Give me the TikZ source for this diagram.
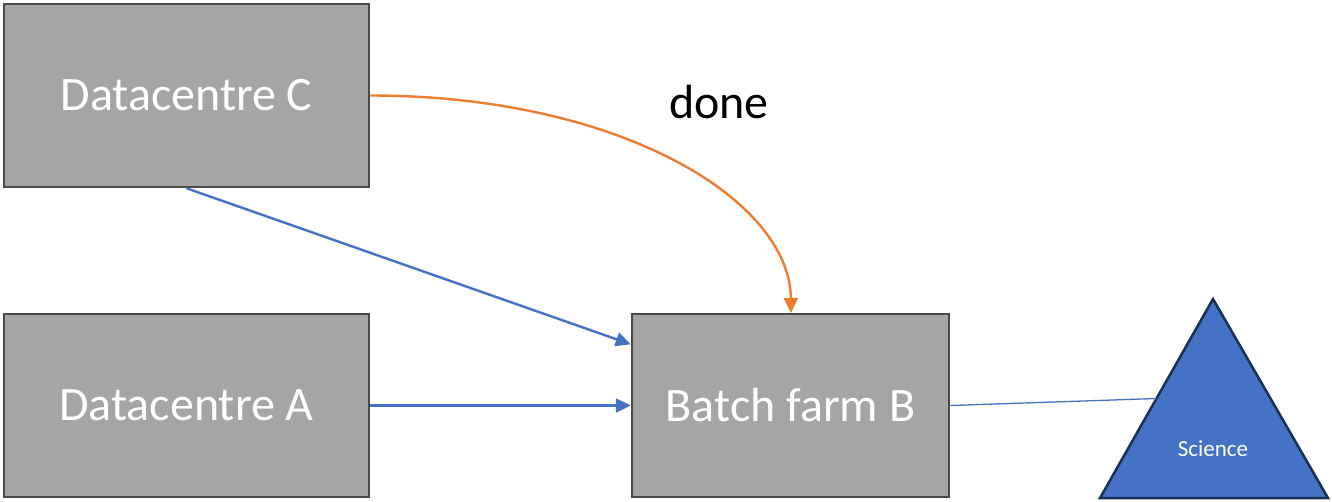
\documentclass[tikz,border=0pt]{standalone}
\usepackage{fontspec}
\setmainfont{Carlito}
\usetikzlibrary{arrows.meta,calc}
\definecolor{boxgray}{HTML}{A5A5A5}
\definecolor{boxedge}{HTML}{4A4A4A}
\definecolor{flowblue}{HTML}{4472C4}
\definecolor{flowor}{HTML}{ED7D31}
\definecolor{trieedge}{HTML}{1B2F55}
\tikzset{
  sitebox/.style={draw=boxedge, line width=2.5pt, fill=boxgray, text=white,
    minimum height=183pt, inner sep=0pt, font=\fontsize{48}{57}\selectfont},
  flow/.style={draw=flowblue, line width=2.4pt, -{Triangle[length=15pt,width=14pt]}},
  doneflow/.style={draw=flowor, line width=2.4pt, -{Triangle[length=15pt,width=14pt]}},
  link/.style={draw=flowblue, line width=1.3pt},
}
\begin{document}
\begin{tikzpicture}[x=1pt,y=-1pt]
\useasboundingbox (0,0) rectangle (1332,501);

% sites
\node[sitebox, minimum width=365pt] (C) at (186.5,95.5) {Datacentre C};
\node[sitebox, minimum width=365pt] (A) at (186.5,405.5) {Datacentre A};
\node[sitebox, minimum width=317pt] (B) at (790.5,405.5) {Batch farm B};

% science pyramid
\coordinate (apex) at (1213,299);
\coordinate (bl) at (1100,498);
\coordinate (br) at (1328,498);
\draw[draw=trieedge, line width=2.5pt, fill=flowblue, line join=miter] (apex) -- (bl) -- (br) -- cycle;
\node[text=white, font=\fontsize{23}{27}\selectfont] (sci) at (1213,449) {Science};
\coordinate (tleft) at ($(apex)!0.5!(bl)$);

% connectors
\coordinate (Bin) at ($(B.north west)!0.17!(B.south west)$);
\draw[flow] (C.south) -- (Bin);
\draw[flow] (A.east) -- (B.west);
\coordinate (Btop) at (791,313);
\draw[doneflow] (C.east) .. controls (620,95.5) and (790,200) .. (Btop);
\draw[link] (B.east) -- (tleft);

\node[font=\fontsize{48}{57}\selectfont] (done) at (719,102) {done};
\end{tikzpicture}
\end{document}
